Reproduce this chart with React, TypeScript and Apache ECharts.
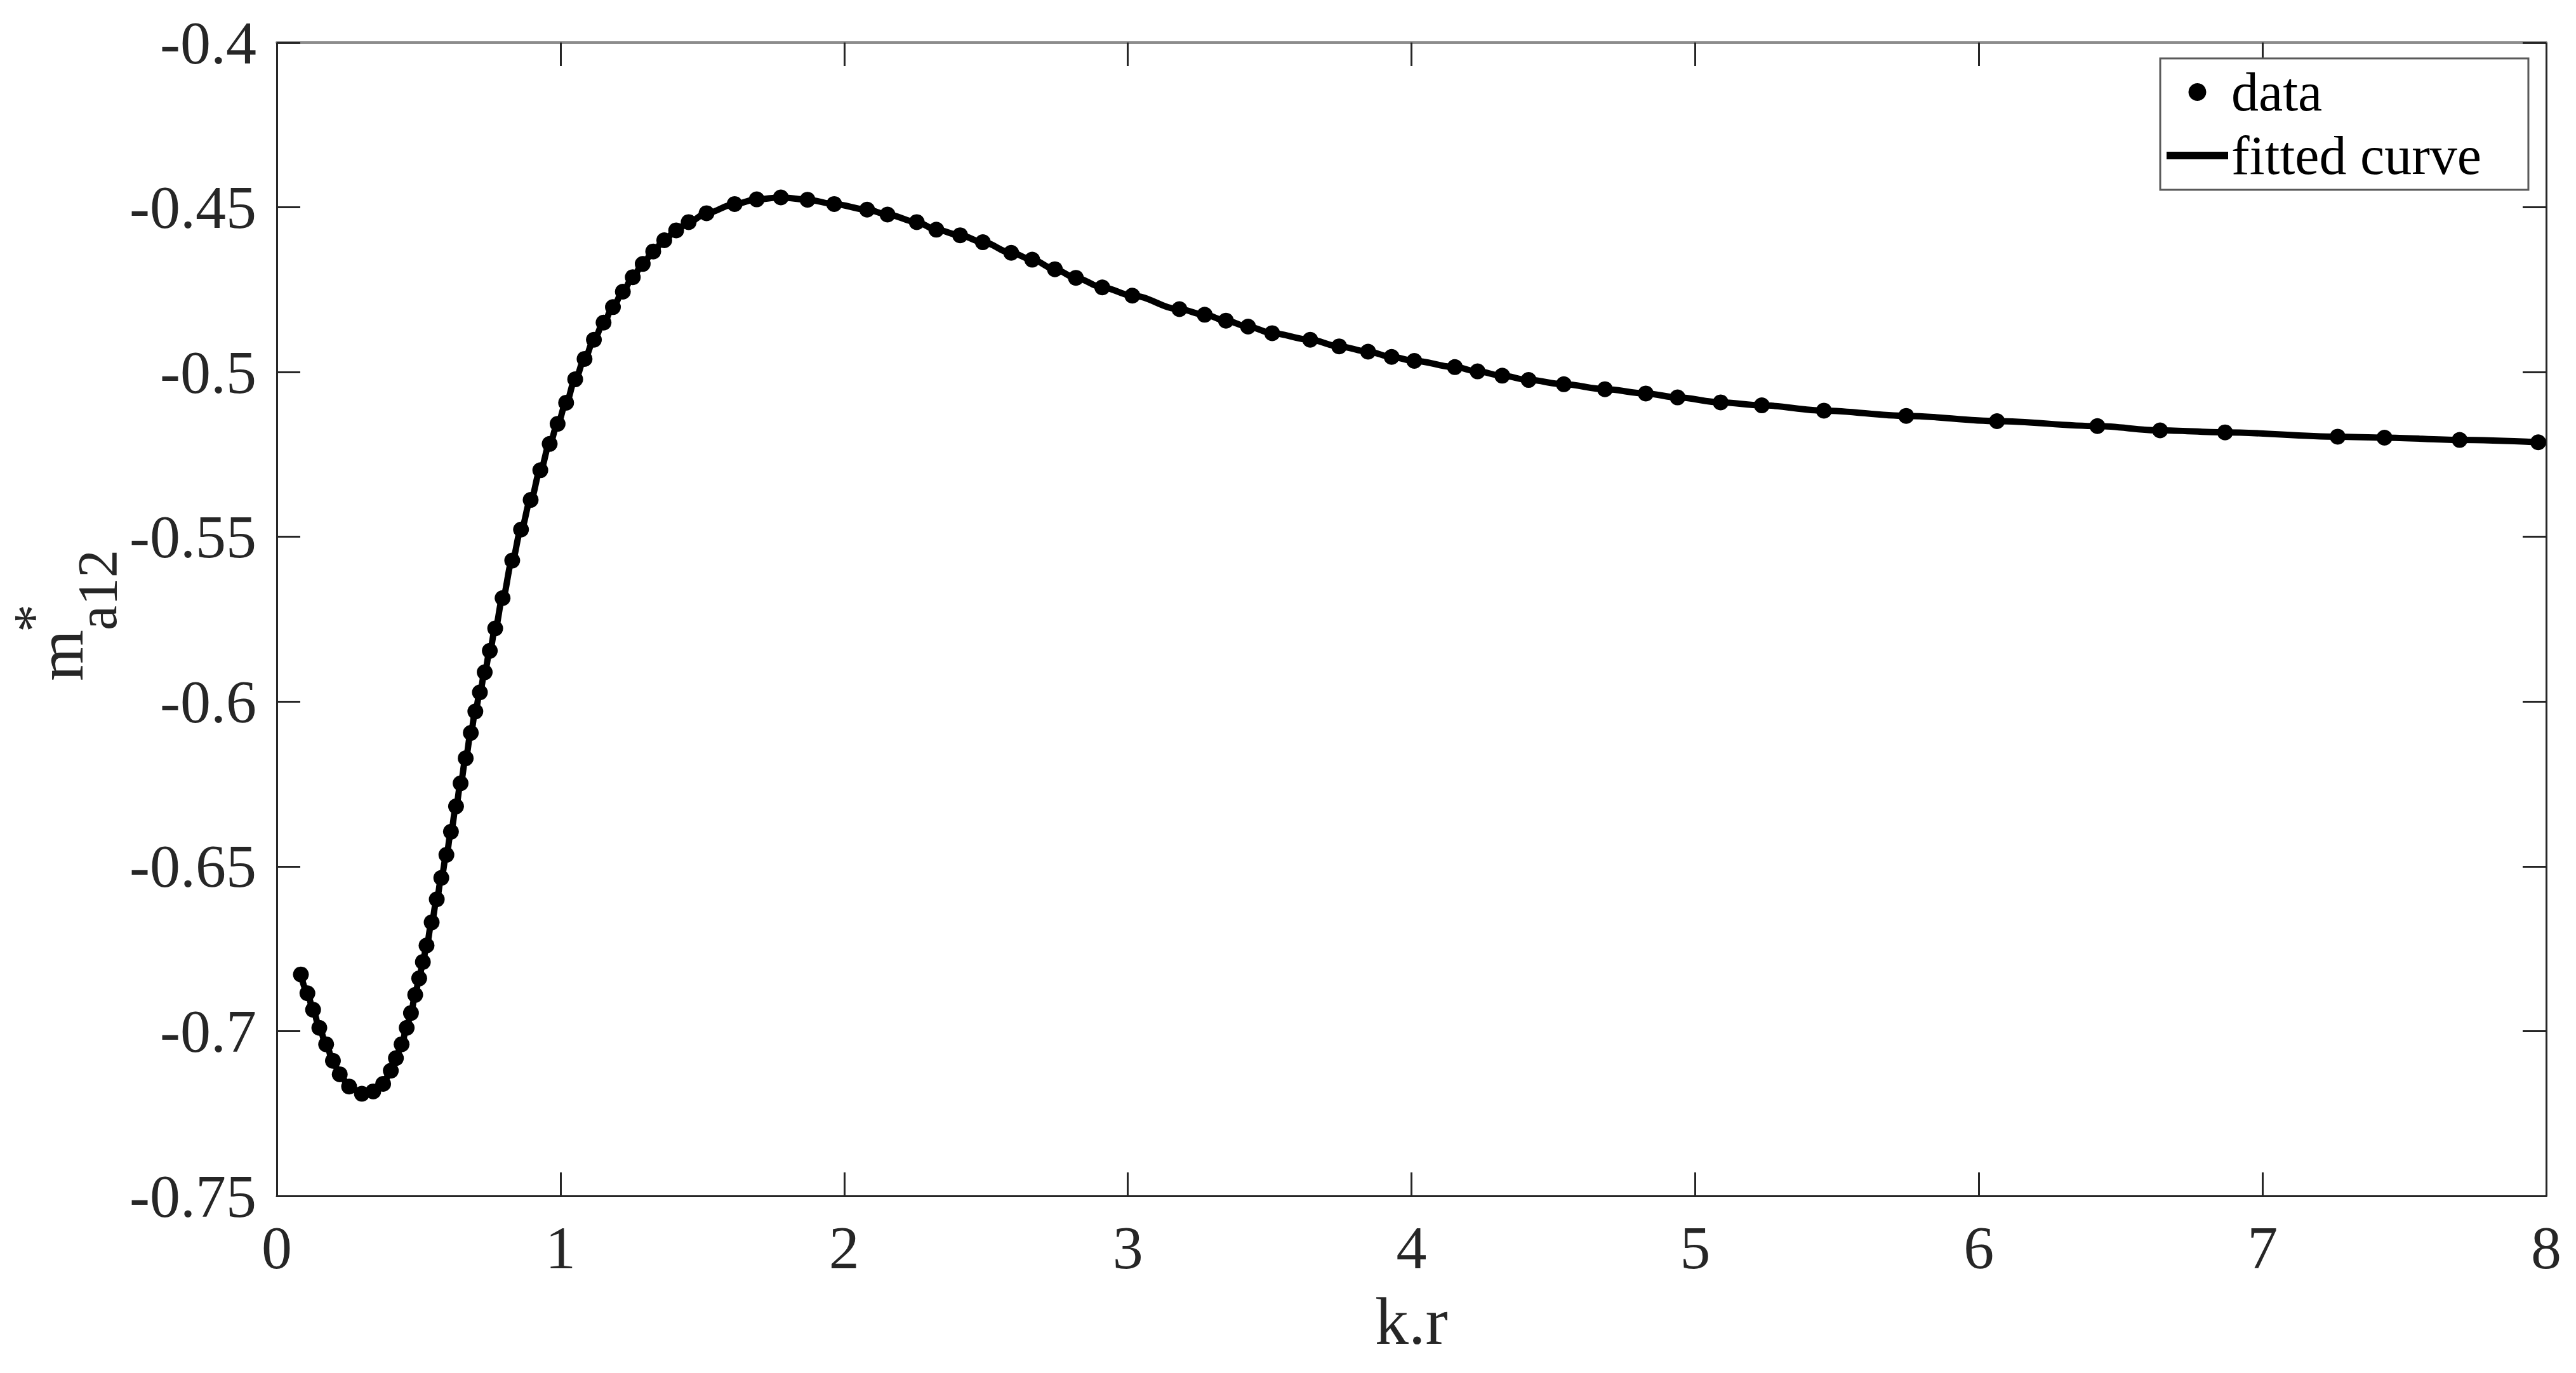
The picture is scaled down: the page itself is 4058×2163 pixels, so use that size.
import React, { useEffect, useRef } from "react";
import * as echarts from "echarts";

// k.r values of the data points
const kr = [
  0.085, 0.108, 0.128, 0.150, 0.174, 0.198, 0.222, 0.255, 0.300, 0.340,
  0.375, 0.402, 0.420, 0.440, 0.458, 0.473, 0.488, 0.502, 0.515, 0.528,
  0.546, 0.564, 0.580, 0.598, 0.614, 0.632, 0.648, 0.666, 0.684, 0.700,
  0.716, 0.733, 0.751, 0.770, 0.796, 0.830, 0.861, 0.895, 0.929, 0.962,
  0.990, 1.020, 1.052, 1.085, 1.118, 1.152, 1.185, 1.220, 1.255, 1.290,
  1.327, 1.366, 1.408, 1.452, 1.515, 1.614, 1.692, 1.777, 1.871, 1.965,
  2.081, 2.153, 2.256, 2.325, 2.409, 2.489, 2.589, 2.663, 2.743, 2.817,
  2.910, 3.016, 3.182, 3.271, 3.346, 3.424, 3.509, 3.643, 3.745, 3.847,
  3.930, 4.010, 4.153, 4.233, 4.320, 4.413, 4.537, 4.682, 4.826, 4.938,
  5.090, 5.235, 5.454, 5.744, 6.064, 6.418, 6.639, 6.868, 7.265, 7.430,
  7.695, 7.972,
];

// m*_a12 values of the data points
const ma12 = [
  -0.6828, -0.6885, -0.6935, -0.6990, -0.7040, -0.7090, -0.7131, -0.7168, -0.7190, -0.7183,
  -0.7160, -0.7120, -0.7082, -0.7040, -0.6990, -0.6945, -0.6890, -0.6840, -0.6790, -0.6740,
  -0.6670, -0.6600, -0.6535, -0.6465, -0.6395, -0.6318, -0.6248, -0.6172, -0.6095, -0.6030,
  -0.5972, -0.5911, -0.5846, -0.5778, -0.5686, -0.5572, -0.5478, -0.5388, -0.5298, -0.5218,
  -0.5157, -0.5093, -0.5022, -0.4960, -0.4902, -0.4850, -0.4803, -0.4756, -0.4712, -0.4672,
  -0.4634, -0.4600, -0.4570, -0.4545, -0.4518, -0.4490, -0.4476, -0.4470, -0.4477, -0.4490,
  -0.4507, -0.4522, -0.4545, -0.4568, -0.4585, -0.4606, -0.4638, -0.4659, -0.4688, -0.4714,
  -0.4743, -0.4768, -0.4809, -0.4826, -0.4844, -0.4862, -0.4882, -0.4902, -0.4922, -0.4938,
  -0.4954, -0.4966, -0.4985, -0.4998, -0.5011, -0.5024, -0.5037, -0.5052, -0.5065, -0.5077,
  -0.5092, -0.5101, -0.5117, -0.5133, -0.5149, -0.5164, -0.5177, -0.5183, -0.5196, -0.5199,
  -0.5206, -0.5213,
];

const seriesNames = ["data", "fitted curve"];
const xTitle = "k.r";
const yTitleMain = "m";
const yTitleSup = "*";
const yTitleSub = "a12";

const FONT = '"Liberation Serif", "Times New Roman", serif';
const AXIS_COLOR = "#262626";

export default function App() {
  const ref = useRef<HTMLDivElement | null>(null);

  useEffect(() => {
    if (!ref.current) return;
    const chart = echarts.init(ref.current, undefined, { renderer: "svg" });
    const points = kr.map((x, i) => [x, ma12[i]]);

    const axisCommon = {
      axisLine: { show: true, onZero: false, lineStyle: { color: AXIS_COLOR, width: 3 } },
      axisTick: { show: true, inside: true, length: 37, lineStyle: { color: AXIS_COLOR, width: 3 } },
      splitLine: { show: false },
    };

    chart.setOption({
      animation: false,
      backgroundColor: "#ffffff",
      grid: { left: 436, right: 47, top: 67, bottom: 279, containLabel: false },
      xAxis: [
        {
          type: "value",
          min: 0,
          max: 8,
          interval: 1,
          position: "bottom",
          ...axisCommon,
          axisLabel: { show: true, margin: 33, fontSize: 96, fontFamily: FONT, color: AXIS_COLOR },
          name: xTitle,
          nameLocation: "middle",
          nameGap: 144,
          nameTextStyle: { fontSize: 106, fontFamily: FONT, color: AXIS_COLOR },
        },
        {
          type: "value",
          min: 0,
          max: 8,
          interval: 1,
          position: "top",
          ...axisCommon,
          axisLine: { show: true, onZero: false, lineStyle: { color: "#8c8c8c", width: 4 } },
          axisLabel: { show: false },
        },
      ],
      yAxis: [
        {
          type: "value",
          min: -0.75,
          max: -0.4,
          interval: 0.05,
          position: "left",
          ...axisCommon,
          axisLabel: {
            show: true,
            margin: 32,
            fontSize: 96,
            fontFamily: FONT,
            color: AXIS_COLOR,
            formatter: (v: number) => String(parseFloat(v.toFixed(2))),
          },
        },
        {
          type: "value",
          min: -0.75,
          max: -0.4,
          interval: 0.05,
          position: "right",
          ...axisCommon,
          axisLabel: { show: false },
        },
      ],
      legend: {
        show: true,
        orient: "vertical",
        left: 3403,
        top: 92,
        padding: [3, 74, 4, 10],
        itemWidth: 97,
        itemHeight: 28,
        itemGap: 0,
        backgroundColor: "#ffffff",
        borderColor: "#5a5a5a",
        borderWidth: 3,
        textStyle: { fontSize: 86, fontFamily: FONT, color: "#000000", lineHeight: 100 },
        data: [
          { name: seriesNames[0], icon: "circle", itemStyle: { color: "#000000", opacity: 1 } },
          { name: seriesNames[1], icon: "path://M0 0H97V12H0Z", itemStyle: { color: "#000000", opacity: 1 } },
        ],
      },
      series: [
        {
          name: seriesNames[1],
          type: "line",
          xAxisIndex: 0,
          yAxisIndex: 0,
          data: points,
          smooth: 0.35,
          smoothMonotone: "x",
          showSymbol: false,
          lineStyle: { color: "#000000", width: 10, opacity: 1 },
          itemStyle: { color: "#000000", opacity: 1 },
          z: 2,
        },
        {
          name: seriesNames[0],
          type: "scatter",
          xAxisIndex: 0,
          yAxisIndex: 0,
          data: points,
          symbol: "circle",
          symbolSize: 25,
          itemStyle: { color: "#000000", opacity: 1 },
          z: 3,
        },
      ],
      graphic: [
        {
          type: "group",
          x: 128,
          y: 1073,
          rotation: Math.PI / 2,
          children: [
            {
              type: "text",
              x: 0,
              y: -34,
              style: { text: yTitleMain, fontSize: 104, fontFamily: FONT, fill: AXIS_COLOR, align: "left", verticalAlign: "middle" },
            },
            {
              type: "text",
              x: 80,
              y: 25,
              style: { text: yTitleSub, fontSize: 88, fontFamily: FONT, fill: AXIS_COLOR, align: "left", verticalAlign: "middle" },
            },
            {
              type: "text",
              x: 99,
              y: -76,
              style: { text: yTitleSup, fontSize: 88, fontFamily: FONT, fill: AXIS_COLOR, align: "center", verticalAlign: "middle" },
            },
          ],
        },
      ],
    });

    return () => chart.dispose();
  }, []);

  return (
    <div
      ref={ref}
      style={{ position: "absolute", left: 0, top: 0, width: 4058, height: 2163, background: "#fff" }}
    />
  );
}
